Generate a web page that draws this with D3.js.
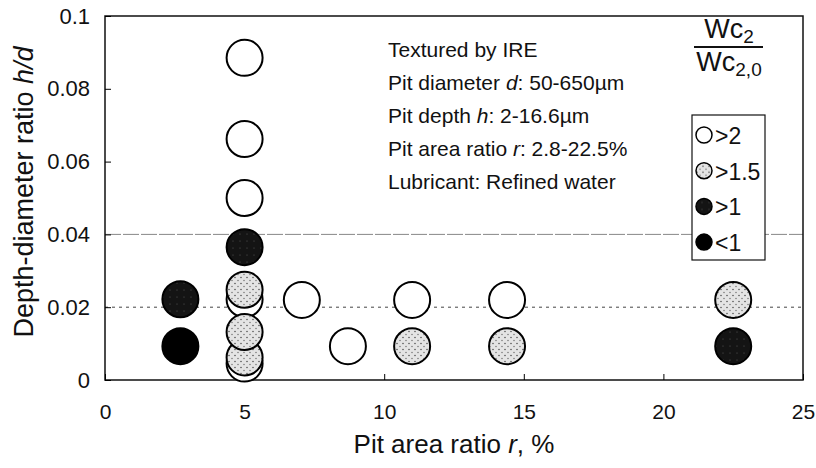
<!DOCTYPE html>
<html>
<head>
<meta charset="utf-8">
<script src="https://cdn.jsdelivr.net/npm/d3@7"></script>
<style>
  body { margin: 0; background: #fff; }
  text { font-family: "Liberation Sans", Arial, sans-serif; fill: #111; }
</style>
</head>
<body>
<div id="chart"></div>
<script>
// circles, in drawing order (back ones first)
const pitRatio = [2.7, 2.7, 5, 5, 5, 5, 5, 5, 5, 5, 5, 7.05, 8.7, 11, 11, 14.4, 14.4, 22.5, 22.5]
const depthRatio = [0.0222, 0.0093, 0.0885, 0.0662, 0.050, 0.0365, 0.0222, 0.0248, 0.0045, 0.0062, 0.0132,
  0.022, 0.0093, 0.022, 0.0093, 0.022, 0.0093, 0.022, 0.0093]
const wearGroup = [">1", "<1", ">2", ">2", ">2", ">1", ">2", ">1.5", ">2", ">1.5", ">1.5",
  ">2", ">2", ">2", ">1.5", ">2", ">1.5", ">1.5", ">1"]

const groups = [">2", ">1.5", ">1", "<1"]
const xTicks = [0, 5, 10, 15, 20, 25]
const yTicks = [0, 0.02, 0.04, 0.06, 0.08, 0.1]
const yTickLabels = ["0", "0.02", "0.04", "0.06", "0.08", "0.1"]

// odd pieces are italic
const noteLines = [
  ["Textured by IRE"],
  ["Pit diameter ", "d", ": 50-650µm"],
  ["Pit depth ", "h", ": 2-16.6µm"],
  ["Pit area ratio ", "r", ": 2.8-22.5%"],
  ["Lubricant: Refined water"]
]

const W = 816, H = 468
const plotL = 105, plotR = 803, plotT = 16, plotB = 380

const svg = d3.select("#chart").append("svg")
  .attr("width", W)
  .attr("height", H)

// stipple textures for the grey and dark circles
const defs = svg.append("defs")
const stipple = defs.append("pattern")
  .attr("id", "stipple").attr("patternUnits", "userSpaceOnUse")
  .attr("width", 6).attr("height", 6)
stipple.append("rect").attr("width", 6).attr("height", 6).attr("fill", "#e4e4e4")
stipple.append("circle").attr("cx", 1).attr("cy", 1.5).attr("r", 0.8).attr("fill", "#555")
stipple.append("circle").attr("cx", 4).attr("cy", 4.5).attr("r", 0.7).attr("fill", "#666")

const dark = defs.append("pattern")
  .attr("id", "dark").attr("patternUnits", "userSpaceOnUse")
  .attr("width", 7).attr("height", 7)
dark.append("rect").attr("width", 7).attr("height", 7).attr("fill", "#141414")
dark.append("circle").attr("cx", 2).attr("cy", 3).attr("r", 0.5).attr("fill", "#666")

const fillFor = {">2": "#fff", ">1.5": "url(#stipple)", ">1": "url(#dark)", "<1": "#000"}

const x = d3.scaleLinear().domain([0, 25]).range([plotL, plotR])
const y = d3.scaleLinear().domain([0, 0.1]).range([plotB, plotT])

// grid lines at 0.02 (dotted) and 0.04 (dashed)
svg.append("line")
  .attr("x1", plotL).attr("x2", plotR)
  .attr("y1", y(0.04)).attr("y2", y(0.04))
  .attr("stroke", "#888").attr("stroke-width", 1)
  .attr("stroke-dasharray", "16,2")
svg.append("line")
  .attr("x1", plotL).attr("x2", plotR)
  .attr("y1", y(0.02)).attr("y2", y(0.02))
  .attr("stroke", "#444").attr("stroke-width", 1)
  .attr("stroke-dasharray", "3,4")

// frame
svg.append("rect")
  .attr("x", plotL).attr("y", plotT)
  .attr("width", plotR - plotL).attr("height", plotB - plotT)
  .attr("fill", "none").attr("stroke", "#111").attr("stroke-width", 1.5)

const yAxis = svg.append("g")
  .attr("transform", "translate(" + plotL + ",0)")
  .call(d3.axisLeft(y).tickValues(yTicks).tickSize(-6).tickSizeOuter(0).tickPadding(15)
    .tickFormat((d, i) => yTickLabels[i]))
yAxis.select(".domain").remove()
yAxis.selectAll("text").style("font-size", "22px").attr("fill", "#111")

const xAxis = svg.append("g")
  .attr("transform", "translate(0," + plotB + ")")
  .call(d3.axisBottom(x).tickValues(xTicks).tickSize(-6).tickSizeOuter(0).tickPadding(24))
xAxis.select(".domain").remove()
xAxis.selectAll("text").style("font-size", "21px").attr("fill", "#111")

// circles
const pts = pitRatio.map((r, i) => ({r: r, hd: depthRatio[i], g: wearGroup[i]}))
svg.append("g")
  .selectAll("circle")
  .data(pts)
  .enter().append("circle")
    .attr("cx", d => x(d.r))
    .attr("cy", d => y(d.hd))
    .attr("r", 18)
    .attr("fill", d => fillFor[d.g])
    .attr("stroke", "#000")
    .attr("stroke-width", 2)

// axis titles
const xt = svg.append("text")
  .attr("x", (plotL + plotR) / 2).attr("y", 453)
  .attr("text-anchor", "middle").style("font-size", "26px")
xt.append("tspan").text("Pit area ratio ")
xt.append("tspan").style("font-style", "italic").text("r")
xt.append("tspan").text(", %")

const yt = svg.append("text")
  .attr("transform", "translate(33,192) rotate(-90)")
  .attr("text-anchor", "middle").style("font-size", "27px")
yt.append("tspan").text("Depth-diameter ratio ")
yt.append("tspan").style("font-style", "italic").text("h/d")

// notes
const notes = svg.append("g").selectAll("text")
  .data(noteLines)
  .enter().append("text")
    .attr("x", 388)
    .attr("y", (d, i) => 57 + i * 33)
    .style("font-size", "21px")
notes.selectAll("tspan")
  .data(d => d)
  .enter().append("tspan")
    .style("font-style", (d, i) => i % 2 ? "italic" : "normal")
    .text(d => d)

// fraction label
const frac = svg.append("g")
const num = frac.append("text").attr("x", 729).attr("y", 38)
  .attr("text-anchor", "middle").style("font-size", "27px")
num.append("tspan").text("Wc")
num.append("tspan").attr("dy", 5).style("font-size", "19px").text("2")
frac.append("line")
  .attr("x1", 694).attr("x2", 763).attr("y1", 47).attr("y2", 47)
  .attr("stroke", "#111").attr("stroke-width", 2)
const den = frac.append("text").attr("x", 729).attr("y", 71)
  .attr("text-anchor", "middle").style("font-size", "27px")
den.append("tspan").text("Wc")
den.append("tspan").attr("dy", 5).style("font-size", "19px").text("2,0")

// legend
const legend = svg.append("g")
legend.append("rect")
  .attr("x", 692).attr("y", 115).attr("width", 73).attr("height", 145)
  .attr("fill", "#fff").attr("stroke", "#111").attr("stroke-width", 1.2)
const item = legend.selectAll(".item")
  .data(groups)
  .enter().append("g")
    .attr("class", "item")
    .attr("transform", (d, i) => "translate(0," + (135 + i * 35.7) + ")")
item.append("circle")
  .attr("cx", 704).attr("r", 8)
  .attr("fill", d => fillFor[d])
  .attr("stroke", "#000").attr("stroke-width", 1.5)
item.append("text")
  .attr("x", 715).attr("y", 9)
  .style("font-size", "23px")
  .text(d => d)
</script>
</body>
</html>
